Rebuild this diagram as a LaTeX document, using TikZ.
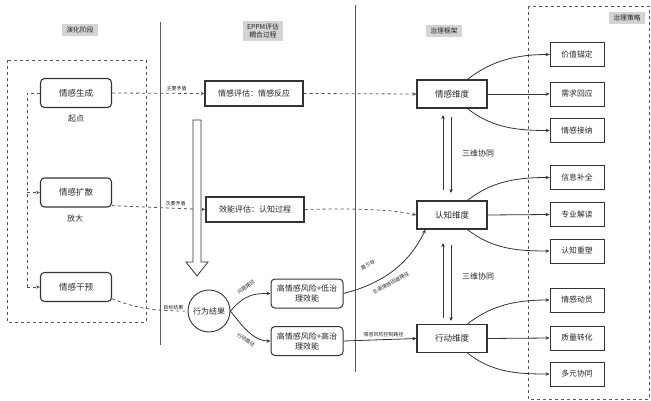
\documentclass[tikz,border=0pt]{standalone}
\usepackage{fontspec}
\setmainfont{Noto Sans CJK SC}
\usetikzlibrary{arrows.meta,calc}
\definecolor{ln}{HTML}{333333}
\definecolor{dl}{HTML}{555555}
\definecolor{hd}{HTML}{D4D4D4}
\begin{document}
\begin{tikzpicture}[x=1pt,y=-1pt,
  every node/.style={text=black!85},
  hdr/.style={fill=hd, inner xsep=4pt, inner ysep=3pt, font=\fontsize{6.8}{8.5}\selectfont, align=center},
  evo/.style={draw=ln, line width=1.1pt, rounded corners=4pt, minimum width=71pt, minimum height=29pt, font=\fontsize{8.5}{10}\selectfont},
  ebox/.style={draw=ln, line width=1.1pt, minimum width=98pt, minimum height=25pt, font=\fontsize{8}{10}\selectfont},
  rbox/.style={draw=ln, line width=1pt, rounded corners=4pt, minimum width=72pt, minimum height=29pt, font=\fontsize{8}{10}\selectfont, align=center, inner sep=1pt},
  dbox/.style={draw=ln, line width=1.2pt, minimum width=70pt, minimum height=28pt, font=\fontsize{8.5}{10}\selectfont},
  sbox/.style={draw=ln, line width=0.9pt, minimum width=54pt, minimum height=24pt, font=\fontsize{7.8}{10}\selectfont},
  lab/.style={font=\fontsize{8}{10}\selectfont},
  tiny/.style={font=\fontsize{5}{6}\selectfont, inner sep=1pt},
  dar/.style={dl, dashed, line width=0.8pt, -{Stealth[length=4pt,width=3.5pt]}},
  dln/.style={dl, dashed, line width=0.8pt},
  sar/.style={ln, line width=0.8pt, -{Stealth[length=4pt,width=3.5pt]}},
]
\path[use as bounding box] (0,0) rectangle (651,401);

% headers
\node[hdr] (h1) at (80,30) {演化阶段};
\node[hdr] (h2) at (263,31) {EPPM评估\\耦合过程};
\node[hdr] (h3) at (444,31) {治理框架};
\node[hdr] (h4) at (627,18) {治理策略};

% frames and separators
\draw[dln, line width=0.9pt] (7,60) rectangle (146,322);
\draw[dln, line width=0.9pt] (528,6) rectangle (649,399);
\draw[ln!80, line width=0.8pt] (160,22) -- (160,345);
\draw[ln!80, line width=0.8pt] (355,5) -- (355,372);

% evolution stages
\node[evo] (n1) at (76,93) {情感生成};
\node[lab] (l1) at (76,118) {起点};
\node[evo] (n2) at (76,192.5) {情感扩散};
\node[lab] (l2) at (75,218) {放大};
\node[evo] (n3) at (76,287) {情感干预};

\coordinate (b1) at (27,93);
\coordinate (b2) at (27,192.5);
\coordinate (b3) at (27,287);
\draw[dln] (n1.west) -- (b1) -- (b3);
\draw[dar] (b2) -- (n2.west);
\draw[dar] (b3) -- (n3.west);

% EPPM
\node[ebox] (e1) at (254,93.5) {情感评估：情感反应};
\node[ebox] (e2) at (255,209.5) {效能评估：认知过程};

\draw[dar] (n1.east) -- node[tiny, above=1pt, pos=0.7] (t1) {主要矛盾} (e1.west);
\draw[dar] (n2.-20) -- node[tiny, above=1pt, pos=0.68] (t2) {次要矛盾} (e2.west);

% big hollow arrow
\draw[ln, line width=0.8pt, fill=white] (193,120) -- (201,120) -- (201,262) -- (208,262) -- (197,276) -- (186,262) -- (193,262) -- cycle;

% behaviour outcome
\node[circle, draw=ln, line width=0.9pt, minimum size=42pt, inner sep=0pt, font=\fontsize{8}{10}\selectfont] (c) at (209,311) {行为结果};
\draw[dln] (n3.-18) .. controls (140,310) and (160,311) .. node[tiny, above=0pt, pos=0.82] (t3) {目标结果} (c.west);

\node[rbox] (r1) at (307,293.5) {高情感风险+低治\\理效能};
\node[rbox] (r2) at (307,341) {高情感风险+高治\\理效能};

\draw[sar] (c.east) .. controls (245,294) and (255,293.5) .. (r1.west);
\draw[sar] (c.east) .. controls (245,330) and (255,341) .. (r2.west);
\node[tiny, rotate=36, inner sep=0pt] (t4) at (246,287) {问题路径};
\node[tiny, rotate=-32, inner sep=0pt] (t5) at (246,340) {行动路径};

% governance dimensions
\node[dbox] (d1) at (452,94) {情感维度};
\node[dbox] (d2) at (452,215) {认知维度};
\node[dbox] (d3) at (452,338.5) {行动维度};

\draw[dar] (e1.east) -- (d1.west);
\draw[dar] (e2.east) .. controls (360,208) and (395,210) .. (d2.west);
\coordinate (d2in) at ($(d2.south west)+(9,0)$);
\draw[sar] (r1.east) .. controls (385,283) and (410,262) .. (d2in);
\node[tiny, rotate=27, inner sep=0pt] (t6) at (368,265) {需引导};
\node[tiny, rotate=28, inner sep=0pt] (t7) at (391,283) {负面情感回避路径};
\draw[sar] (r2.east) -- node[tiny, above=1pt, pos=0.55] (t8) {情感风险控制路径} (d3.west);

% synergy arrows
\coordinate (u1a) at (443,190); \coordinate (u1b) at (443,115);
\coordinate (v1a) at (451,117); \coordinate (v1b) at (451,193);
\coordinate (u2a) at (443,318); \coordinate (u2b) at (443,243);
\coordinate (v2a) at (451,245); \coordinate (v2b) at (451,321);
\draw[sar, line width=1pt] (u1a) -- (u1b);
\draw[sar, line width=1pt] (v1a) -- (v1b);
\draw[sar, line width=1pt] (u2a) -- (u2b);
\draw[sar, line width=1pt] (v2a) -- (v2b);
\node[lab] (k1) at (478,153) {三维协同};
\node[lab] (k2) at (478,276) {三维协同};

% strategies
\node[sbox] (s1) at (577,54.5) {价值锚定};
\node[sbox] (s2) at (577,94) {需求回应};
\node[sbox] (s3) at (577,130.5) {情感接纳};
\node[sbox] (s4) at (577,177.5) {信息补全};
\node[sbox] (s5) at (577,214.5) {专业解读};
\node[sbox] (s6) at (577,251) {认知重塑};
\node[sbox] (s7) at (577,300) {情感动员};
\node[sbox] (s8) at (577,338) {质量转化};
\node[sbox] (s9) at (577,374) {多元协同};

\foreach \d/\a/\b/\c in {d1/s1/s2/s3, d2/s4/s5/s6, d3/s7/s8/s9}{
  \draw[sar] ($(\d.north east)+(-20,0)$) .. controls +(25,-20) and +(-30,0) .. (\a.west);
  \draw[sar] (\d.east) -- (\b.west);
  \draw[sar] ($(\d.south east)+(-20,0)$) .. controls +(25,20) and +(-30,0) .. (\c.west);
}
\end{tikzpicture}
\end{document}
